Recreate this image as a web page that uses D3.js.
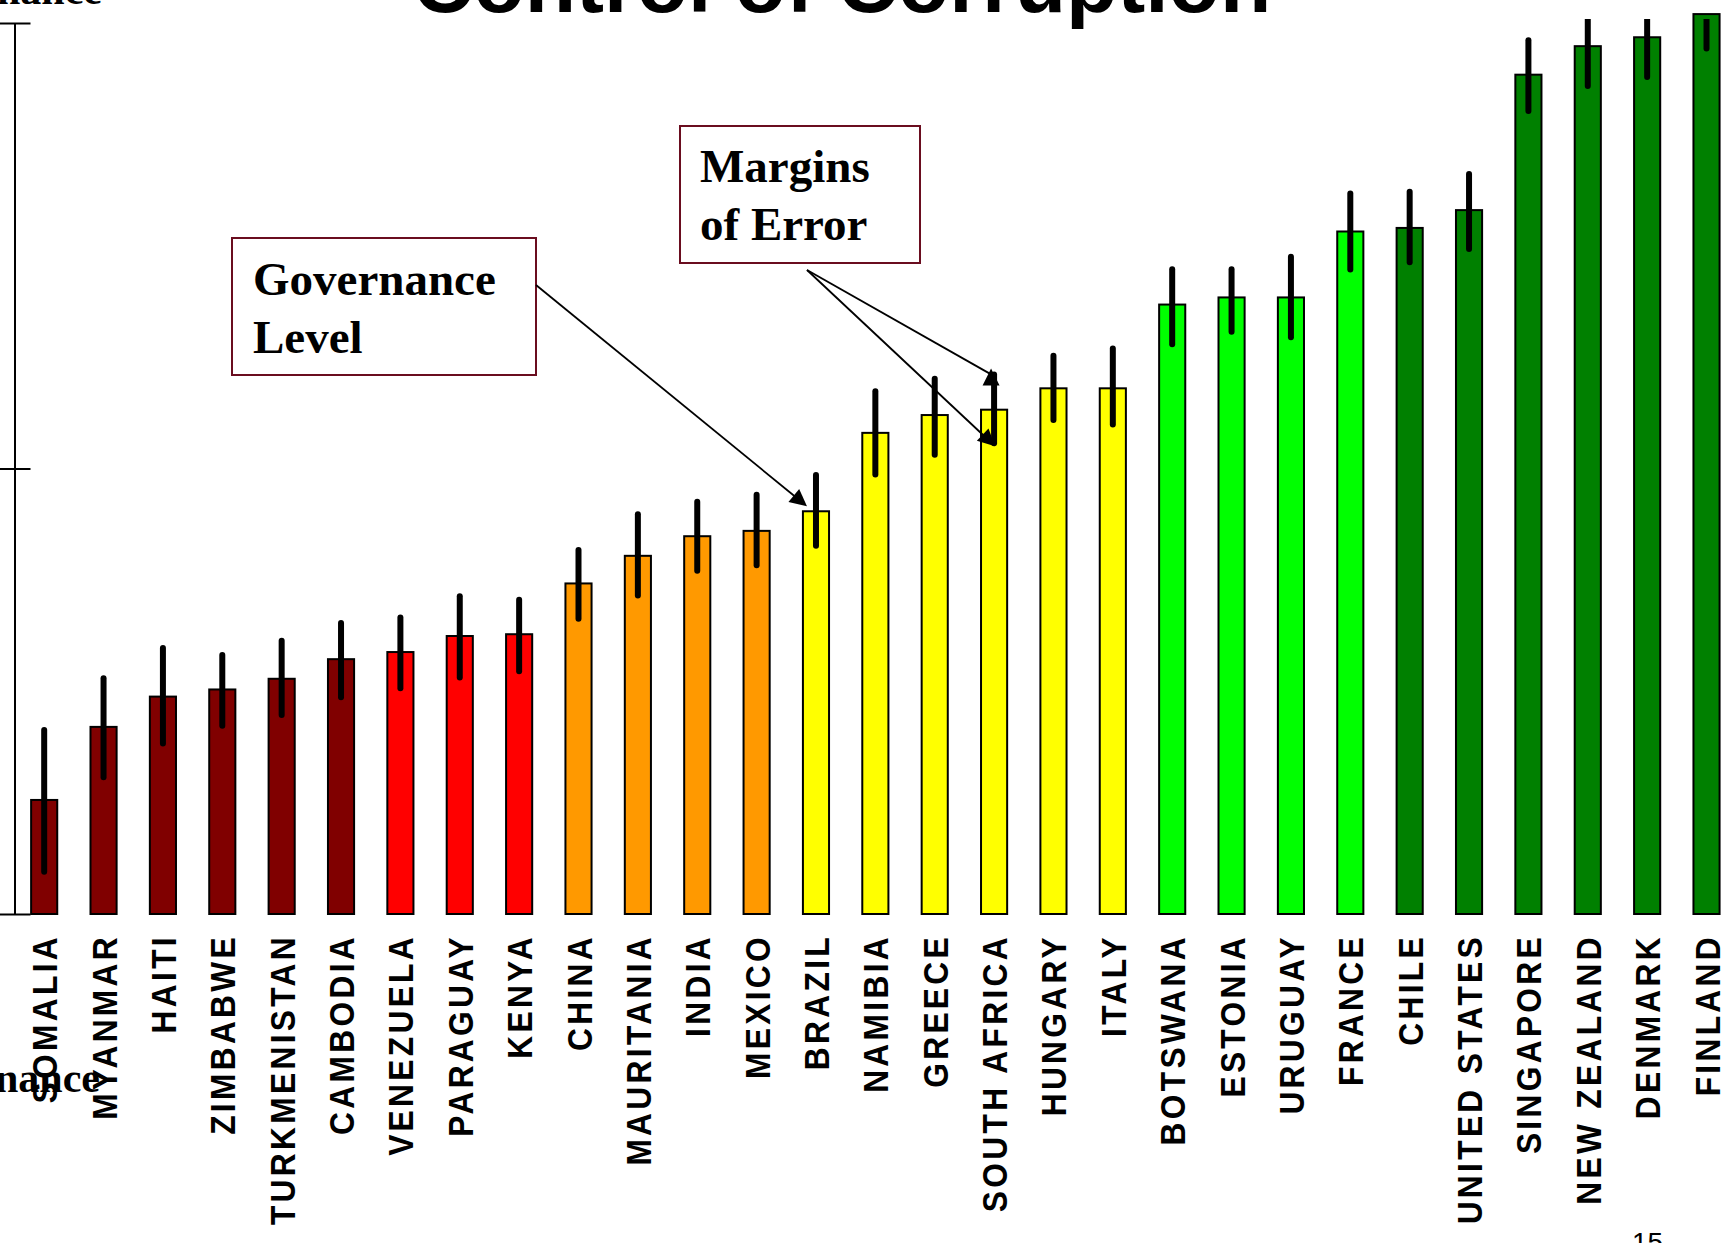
<!DOCTYPE html>
<html>
<head>
<meta charset="utf-8">
<script src="https://cdn.jsdelivr.net/npm/d3@7"></script>
<style>
  body { margin: 0; background: #fff; overflow: hidden; }
  svg { display: block; }
</style>
</head>
<body>
<div id="chart"></div>
<script>
(function () {
    var width = 1733,
        height = 1243;

    // data
    var countries = ["SOMALIA", "MYANMAR", "HAITI", "ZIMBABWE", "TURKMENISTAN", "CAMBODIA",
        "VENEZUELA", "PARAGUAY", "KENYA", "CHINA", "MAURITANIA", "INDIA", "MEXICO",
        "BRAZIL", "NAMIBIA", "GREECE", "SOUTH AFRICA", "HUNGARY", "ITALY",
        "BOTSWANA", "ESTONIA", "URUGUAY", "FRANCE", "CHILE", "UNITED STATES",
        "SINGAPORE", "NEW ZEALAND", "DENMARK", "FINLAND"];
    var tiers = [0, 0, 0, 0, 0, 0, 1, 1, 1, 2, 2, 2, 2, 3, 3, 3, 3, 3, 3, 4, 4, 4, 4, 5, 5, 5, 5, 5, 5];
    var values = [-1.86, -1.45, -1.28, -1.24, -1.18, -1.07, -1.03, -0.94, -0.93, -0.645, -0.49,
        -0.38, -0.35, -0.24, 0.20, 0.30, 0.33, 0.45, 0.45, 0.92, 0.96, 0.96, 1.33, 1.35, 1.45,
        2.21, 2.37, 2.42, 2.55];
    var errLow = [-2.28, -1.75, -1.56, -1.46, -1.40, -1.30, -1.25, -1.19, -1.155, -0.86, -0.73,
        -0.59, -0.56, -0.45, -0.05, 0.06, 0.125, 0.255, 0.23, 0.68, 0.75, 0.72, 1.10, 1.14, 1.215,
        1.99, 2.13, 2.18, 2.34];
    var errHigh = [-1.45, -1.16, -0.99, -1.03, -0.95, -0.85, -0.82, -0.70, -0.72, -0.44, -0.24,
        -0.17, -0.13, -0.02, 0.45, 0.52, 0.545, 0.65, 0.69, 1.135, 1.135, 1.205, 1.56, 1.57, 1.67,
        2.42, 2.62, 2.66, 2.78];
    var yTicks = [-2.5, 0, 2.5];

    var data = countries.map(function (c, i) {
        return { name: c, tier: tiers[i], value: values[i], lo: errLow[i], hi: errHigh[i] };
    });

    var svg = d3.select("#chart")
        .append("svg")
        .attr("width", width)
        .attr("height", height);

    var x = d3.scaleBand()
        .domain(countries)
        .range([14.5, 1736.2])
        .paddingInner(0.56)
        .paddingOuter(0.28);

    var y = d3.scaleLinear()
        .domain([-2.5, 2.5])
        .range([914, 23]);

    var color = d3.scaleOrdinal()
        .domain([0, 1, 2, 3, 4, 5])
        .range(["#800000", "#ff0000", "#ff9900", "#ffff00", "#00ff00", "#008000"]);

    var defs = svg.append("defs");
    defs.append("clipPath")
        .attr("id", "plot-clip")
        .append("rect")
        .attr("x", 0)
        .attr("y", 19)
        .attr("width", width)
        .attr("height", height);

    // title, cut off by the top edge as on the slide
    svg.append("text")
        .attr("x", 842)
        .attr("y", 12)
        .attr("text-anchor", "middle")
        .style("font-family", "'Liberation Sans', Arial, sans-serif")
        .style("font-weight", "bold")
        .style("font-size", "84px")
        .text("Control of Corruption");

    // y axis
    var gAxis = svg.append("g")
        .attr("transform", "translate(14.5,0)")
        .call(d3.axisLeft(y).tickValues(yTicks).tickSize(0).tickSizeOuter(0).tickFormat(""));
    gAxis.select(".domain").attr("stroke", "#000").attr("stroke-width", 2);
    gAxis.selectAll(".tick line")
        .attr("x1", -15)
        .attr("x2", 16)
        .attr("stroke", "#000")
        .attr("stroke-width", 2);

    svg.append("text")
        .attr("x", 102)
        .attr("y", 4)
        .attr("text-anchor", "end")
        .style("font-family", "'Liberation Serif', 'Times New Roman', serif")
        .style("font-weight", "bold")
        .style("font-size", "42px")
        .text("Good Governance");

    // bars
    svg.selectAll(".bar")
        .data(data)
        .enter().append("rect")
        .attr("class", "bar")
        .attr("x", function (d) { return x(d.name); })
        .attr("width", x.bandwidth())
        .attr("y", function (d) { return y(d.value); })
        .attr("height", function (d) { return y(-2.5) - y(d.value); })
        .attr("fill", function (d) { return color(d.tier); })
        .attr("stroke", "#000")
        .attr("stroke-width", 2);

    // error bars
    svg.append("g")
        .attr("clip-path", "url(#plot-clip)")
        .selectAll(".err")
        .data(data)
        .enter().append("line")
        .attr("class", "err")
        .attr("x1", function (d) { return x(d.name) + x.bandwidth() / 2; })
        .attr("x2", function (d) { return x(d.name) + x.bandwidth() / 2; })
        .attr("y1", function (d) { return y(d.hi) + 3; })
        .attr("y2", function (d) { return y(d.lo) - 3; })
        .attr("stroke", "#000")
        .attr("stroke-width", 6)
        .attr("stroke-linecap", "round");

    // country labels, spaced out like the slide
    svg.selectAll(".label")
        .data(data)
        .enter().append("text")
        .attr("class", "label")
        .attr("transform", function (d) {
            return "translate(" + (x(d.name) + x.bandwidth() / 2 + 13) + ",934) rotate(-90) scale(0.88,1)";
        })
        .attr("text-anchor", "end")
        .style("font-family", "'Liberation Sans', Arial, sans-serif")
        .style("font-weight", "bold")
        .style("font-size", "36px")
        .style("letter-spacing", "3.8px")
        .text(function (d) { return d.name; });

    svg.append("text")
        .attr("x", 100)
        .attr("y", 1092)
        .attr("text-anchor", "end")
        .style("font-family", "'Liberation Serif', 'Times New Roman', serif")
        .style("font-weight", "bold")
        .style("font-size", "42px")
        .text("Poor Governance");

    // annotation boxes
    function box(x0, y0, w, h, lines, tx, ty) {
        svg.append("rect")
            .attr("x", x0).attr("y", y0)
            .attr("width", w).attr("height", h)
            .attr("fill", "#fff")
            .attr("stroke", "#6a0d1f")
            .attr("stroke-width", 2);
        var t = svg.append("text")
            .style("font-family", "'Liberation Serif', 'Times New Roman', serif")
            .style("font-weight", "bold")
            .style("font-size", "47px");
        lines.forEach(function (s, i) {
            t.append("tspan").attr("x", tx).attr("y", ty + i * 58).text(s);
        });
    }
    box(232, 238, 304, 137, ["Governance", "Level"], 253, 295);
    box(680, 126, 240, 137, ["Margins", "of Error"], 700, 182);

    function arrowHead(tipX, tipY, fromX, fromY) {
        var a = Math.atan2(tipY - fromY, tipX - fromX),
            len = 17, half = 8.5;
        var bx = tipX - len * Math.cos(a), by = tipY - len * Math.sin(a);
        var px = -Math.sin(a) * half, py = Math.cos(a) * half;
        svg.append("path")
            .attr("d", "M" + tipX + "," + tipY + "L" + (bx + px) + "," + (by + py) +
                "L" + (bx - px) + "," + (by - py) + "Z")
            .attr("fill", "#000");
    }
    function arrow(x1, y1, x2, y2) {
        svg.append("line")
            .attr("x1", x1).attr("y1", y1)
            .attr("x2", x2).attr("y2", y2)
            .attr("stroke", "#000")
            .attr("stroke-width", 1.8);
    }

    var brazilX = x("BRAZIL") + x.bandwidth() / 2,
        saX = x("SOUTH AFRICA") + x.bandwidth() / 2,
        sa = data[countries.indexOf("SOUTH AFRICA")];

    var bTip = [brazilX - 9, y(values[countries.indexOf("BRAZIL")]) - 5];
    arrow(536, 285, bTip[0] - 8, bTip[1] - 6.5);
    arrowHead(bTip[0], bTip[1], 536, 285);

    // margins of error: to both ends of South Africa's error bar
    var upTip = [saX - 3, y(sa.hi) - 3];
    arrow(807, 270, upTip[0], upTip[1] + 6);
    arrowHead(upTip[0], upTip[1], upTip[0], upTip[1] + 20);
    var loTip = [saX + 1, y(sa.lo)];
    arrow(807, 270, loTip[0] - 8, loTip[1] - 7.5);
    arrowHead(loTip[0], loTip[1], 807, 270);

    // slide number
    svg.append("text")
        .attr("x", 1632)
        .attr("y", 1252)
        .style("font-family", "'Liberation Sans', Arial, sans-serif")
        .style("font-size", "28px")
        .text("15");
})();
</script>
</body>
</html>
